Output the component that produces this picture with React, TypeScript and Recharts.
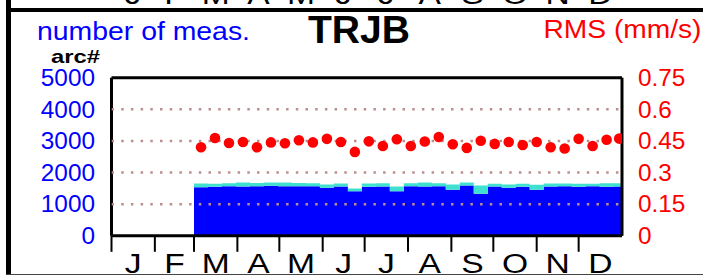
import React from "react";
import {
  ComposedChart,
  Area,
  Scatter,
  XAxis,
  YAxis,
  ReferenceLine,
} from "recharts";

// ---- data ----
const monthLabels = ["J", "F", "M", "A", "M", "J", "J", "A", "S", "O", "N", "D"];
const monthStarts = [0, 31, 59, 90, 120, 151, 181, 212, 243, 273, 304, 334];
const monthLengths = [31, 28, 31, 30, 31, 30, 31, 31, 30, 31, 30, 31];

// 10-day bins (day of year where each bin starts); last bin ends at day 365
const binStarts = [
  59, 69, 79, 89, 99, 109, 119, 129, 139, 149, 159, 169, 179, 189, 199, 209,
  219, 229, 239, 249, 259, 269, 279, 289, 299, 309, 319, 329, 339, 349, 359,
];
const yearEnd = 365;
// number of measurements: lower (blue) part and total (blue + turquoise)
const countBlue = [
  1537, 1548, 1569, 1558, 1569, 1580, 1569, 1569, 1569, 1516, 1558, 1410, 1548,
  1558, 1410, 1569, 1558, 1569, 1453, 1590, 1328, 1558, 1516, 1548, 1453, 1558,
  1569, 1548, 1569, 1548, 1558,
];
const countTotal = [
  1653, 1650, 1660, 1684, 1670, 1684, 1684, 1670, 1664, 1621, 1653, 1495, 1653,
  1664, 1558, 1664, 1684, 1664, 1621, 1684, 1590, 1643, 1621, 1643, 1611, 1653,
  1653, 1643, 1643, 1664, 1664,
];

// RMS (mm/s) per bin
const rmsDays = [
  64, 74, 84, 94, 104, 114, 124, 134, 144, 154, 164, 174, 184, 194, 204, 214,
  224, 234, 244, 254, 264, 274, 284, 294, 304, 314, 324, 334, 344, 354, 363,
];
const rmsValues = [
  0.42, 0.464, 0.44, 0.445, 0.42, 0.443, 0.439, 0.453, 0.443, 0.46, 0.445,
  0.398, 0.448, 0.426, 0.458, 0.426, 0.447, 0.469, 0.434, 0.417, 0.451, 0.436,
  0.445, 0.431, 0.445, 0.42, 0.414, 0.46, 0.426, 0.456, 0.461,
];

const leftTicks = [0, 1000, 2000, 3000, 4000, 5000];
const rightTicks = [0, 0.15, 0.3, 0.45, 0.6, 0.75];
const gridValues = [1000, 2000, 3000, 4000];

// ---- tables built from the arrays ----
const areaRows = binStarts.map((d, i) => ({
  day: d,
  blue: countBlue[i],
  cyan: countTotal[i] - countBlue[i],
}));
areaRows.push({
  day: yearEnd,
  blue: countBlue[countBlue.length - 1],
  cyan: countTotal[countTotal.length - 1] - countBlue[countBlue.length - 1],
});
const rmsRows = rmsDays.map((d, i) => ({ day: d, rms: rmsValues[i] }));
const gridRows = gridValues.map((v) => [
  { day: 0, g: v },
  { day: yearEnd, g: v },
]);

// ---- layout ----
const W = 703;
const H = 275;
const PLOT_LEFT = 111.5;
const PLOT_RIGHT = 622;
const PLOT_TOP = 77.7;
const PLOT_BOTTOM = 235.8;
const PX_PER_DAY = (PLOT_RIGHT - PLOT_LEFT) / yearEnd;
const FONT = "'Liberation Sans', Arial, Helvetica, sans-serif";

const LeftTick = (p: any) => (
  <text
    transform={`translate(${p.x},${p.y}) scale(1.06,1)`}
    x={0}
    y={8.2}
    textAnchor="end"
    fontSize={23}
    fontFamily={FONT}
    fill="#0000ff"
  >
    {String(p.payload.value)}
  </text>
);

const RightTick = (p: any) => (
  <text
    transform={`translate(${p.x},${p.y}) scale(1.06,1)`}
    x={0}
    y={8.2}
    textAnchor="start"
    fontSize={23}
    fontFamily={FONT}
    fill="#ff0000"
  >
    {String(p.payload.value)}
  </text>
);

const MonthTick = (p: any) => {
  const idx = monthStarts.indexOf(p.payload.value);
  if (idx < 0) return null;
  const cx = p.x + (monthLengths[idx] / 2) * PX_PER_DAY;
  return (
    <text
      transform={`translate(${cx},${PLOT_BOTTOM + 37.5}) scale(1.2,1)`}
      x={0}
      y={0}
      textAnchor="middle"
      fontSize={28}
      fontFamily={FONT}
      fill="#000"
    >
      {monthLabels[idx]}
    </text>
  );
};

const Dot = (p: any) => {
  if (typeof p.cx !== "number" || typeof p.cy !== "number") return null;
  return <circle cx={p.cx} cy={p.cy} r={5.3} fill="#ff0000" />;
};

const NoShape = () => <g />;

export default function App() {
  return (
    <div
      style={{
        position: "fixed",
        left: 0,
        top: 0,
        width: W,
        height: H,
        background: "#fff",
        overflow: "hidden",
      }}
    >
      <ComposedChart
        width={W}
        height={H}
        data={areaRows}
        margin={{ top: PLOT_TOP, right: 0, bottom: 0, left: 0 }}
      >
        <XAxis
          dataKey="day"
          type="number"
          domain={[0, yearEnd]}
          ticks={monthStarts}
          interval={0}
          allowDataOverflow
          height={H - PLOT_BOTTOM}
          tickSize={16}
          tickLine={{ stroke: "#000", strokeWidth: 2 }}
          axisLine={{ stroke: "#000", strokeWidth: 3 }}
          tick={<MonthTick />}
        />
        <YAxis
          yAxisId="count"
          domain={[0, 5000]}
          ticks={leftTicks}
          interval={0}
          width={PLOT_LEFT}
          tickSize={0}
          tickMargin={16.5}
          tickLine={false}
          axisLine={{ stroke: "#000", strokeWidth: 3 }}
          tick={<LeftTick />}
        />
        <YAxis
          yAxisId="rms"
          orientation="right"
          domain={[0, 0.75]}
          ticks={rightTicks}
          interval={0}
          width={W - PLOT_RIGHT}
          tickSize={0}
          tickMargin={16}
          tickLine={false}
          axisLine={{ stroke: "#000", strokeWidth: 3 }}
          tick={<RightTick />}
        />
        <Area
          yAxisId="count"
          dataKey="blue"
          stackId="n"
          type="stepAfter"
          fill="#0000ff"
          fillOpacity={1}
          stroke="none"
          isAnimationActive={false}
        />
        <Area
          yAxisId="count"
          dataKey="cyan"
          stackId="n"
          type="stepAfter"
          fill="#40e0d0"
          fillOpacity={1}
          stroke="none"
          isAnimationActive={false}
        />
        {gridRows.map((rows, i) => (
          <Scatter
            key={i}
            yAxisId="count"
            data={rows}
            dataKey="g"
            shape={<NoShape />}
            line={{
              stroke: "#bc8f8f",
              strokeWidth: 2.5,
              strokeDasharray: "2.5 7.2",
            }}
            isAnimationActive={false}
          />
        ))}
        <ReferenceLine
          yAxisId="count"
          y={5000}
          stroke="#000"
          strokeWidth={3}
        />
        <Scatter
          yAxisId="rms"
          data={rmsRows}
          dataKey="rms"
          shape={<Dot />}
          isAnimationActive={false}
        />
      </ComposedChart>
      <svg
        width={W}
        height={H}
        style={{ position: "absolute", left: 0, top: 0, pointerEvents: "none" }}
      >
        {/* remnants of the panel above */}
        {monthLabels.map((m, i) => (
          <text
            key={i}
            transform={`translate(${
              PLOT_LEFT + (monthStarts[i] + monthLengths[i] / 2) * PX_PER_DAY
            },4) scale(1.2,1)`}
            textAnchor="middle"
            fontSize={28}
            fontFamily={FONT}
            fill="#000"
          >
            {m}
          </text>
        ))}
        <rect x={6} y={0} width={5} height={H} fill="#000" />
        <rect x={6} y={8} width={W - 6} height={4} fill="#000" />
        <rect x={6} y={274} width={W - 6} height={1} fill="#444" />
        <text x={37} y={40} fontSize={25} fontFamily={FONT} fill="#0000ff" textLength={213} lengthAdjust="spacingAndGlyphs">
          number of meas.
        </text>
        <text x={308} y={43.3} fontSize={39} fontWeight="bold" fontFamily={FONT} fill="#000" textLength={102} lengthAdjust="spacingAndGlyphs">
          TRJB
        </text>
        <text x={543.5} y={37.7} fontSize={25.5} fontFamily={FONT} fill="#ff0000" textLength={158} lengthAdjust="spacingAndGlyphs">
          RMS (mm/s)
        </text>
        <text x={51} y={63.3} fontSize={19} fontWeight="bold" fontFamily={FONT} fill="#000" textLength={49} lengthAdjust="spacingAndGlyphs">
          arc#
        </text>
      </svg>
    </div>
  );
}
